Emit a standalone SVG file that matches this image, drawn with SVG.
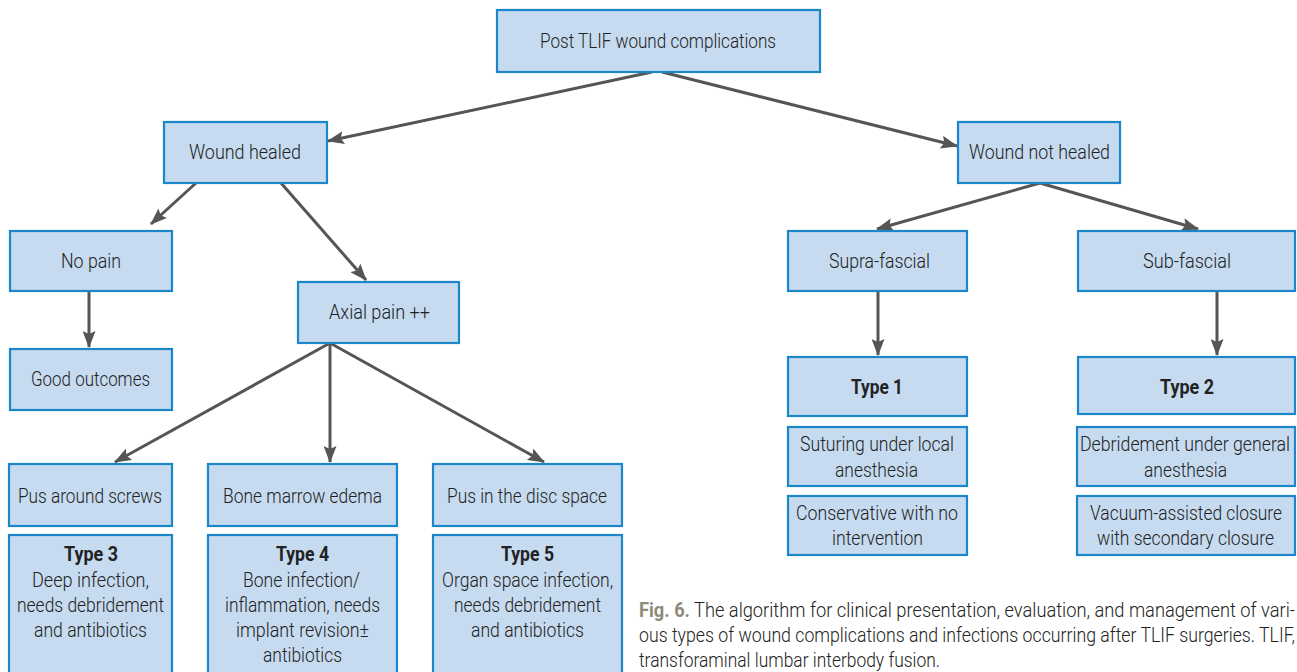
<svg xmlns="http://www.w3.org/2000/svg" width="1297" height="672" viewBox="0 0 1297 672">
<style>
.box{fill:#c6dbf0;stroke:#1b87c9;stroke-width:2.2}
.t{font-family:Roboto,'DejaVu Sans Condensed',sans-serif;font-size:21px;font-weight:300;fill:#222}
.b{font-weight:bold}
.c{font-family:Roboto,'DejaVu Sans Condensed',sans-serif;font-size:20px;font-weight:300;fill:#222}
.cf{font-weight:bold;fill:#8c8b78}
.edge{stroke:#555;stroke-width:3;fill:none;marker-end:url(#ah)}
</style>
<defs>
<marker id="ah" viewBox="0 0 17 13" refX="16" refY="6.5" markerWidth="17" markerHeight="13" orient="auto" markerUnits="userSpaceOnUse">
<path d="M0,0 L17,6.5 L0,13 L3,6.5 z" fill="#555"/>
</marker>
</defs>
<rect width="1297" height="672" fill="#fff"/>
<g id="connectors">
<line class="edge" x1="652" y1="72" x2="328" y2="141"/>
<line class="edge" x1="662" y1="72" x2="957" y2="146"/>
<line class="edge" x1="196" y1="183" x2="151" y2="224"/>
<line class="edge" x1="281" y1="183" x2="366" y2="280"/>
<line class="edge" x1="89" y1="291" x2="89" y2="347"/>
<line class="edge" x1="330" y1="343" x2="115" y2="462"/>
<line class="edge" x1="330" y1="343" x2="330" y2="462"/>
<line class="edge" x1="330" y1="343" x2="544" y2="462"/>
<line class="edge" x1="1040" y1="183" x2="877" y2="229"/>
<line class="edge" x1="1040" y1="183" x2="1198" y2="229"/>
<line class="edge" x1="878" y1="291" x2="878" y2="355"/>
<line class="edge" x1="1217" y1="291" x2="1217" y2="355"/>
</g>
<g id="n-top"><rect class="box" x="497" y="10" width="323" height="62"/><text class="t" x="540" y="48" textLength="236" lengthAdjust="spacingAndGlyphs">Post TLIF wound complications</text></g>
<g id="n-healed"><rect class="box" x="164" y="122" width="163" height="61"/><text class="t" x="189" y="159" textLength="112" lengthAdjust="spacingAndGlyphs">Wound healed</text></g>
<g id="n-nothealed"><rect class="box" x="958" y="122" width="162" height="61"/><text class="t" x="969" y="159" textLength="141" lengthAdjust="spacingAndGlyphs">Wound not healed</text></g>
<g id="n-nopain"><rect class="box" x="10" y="231" width="162" height="60"/><text class="t" x="61" y="268" textLength="60" lengthAdjust="spacingAndGlyphs">No pain</text></g>
<g id="n-axial"><rect class="box" x="298" y="282" width="161" height="61"/><text class="t" x="329" y="319" textLength="101" lengthAdjust="spacingAndGlyphs">Axial pain ++</text></g>
<g id="n-good"><rect class="box" x="10" y="349" width="162" height="61"/><text class="t" x="31" y="386" textLength="119" lengthAdjust="spacingAndGlyphs">Good outcomes</text></g>
<g id="n-supra"><rect class="box" x="788" y="231" width="179" height="60"/><text class="t" x="829" y="268" textLength="101" lengthAdjust="spacingAndGlyphs">Supra-fascial</text></g>
<g id="n-sub"><rect class="box" x="1078" y="231" width="217" height="60"/><text class="t" x="1143" y="268" textLength="88" lengthAdjust="spacingAndGlyphs">Sub-fascial</text></g>
<g id="n-type1"><rect class="box" x="788" y="357" width="179" height="59"/><text class="t b" x="851" y="394" textLength="52" lengthAdjust="spacingAndGlyphs">Type 1</text></g>
<g id="n-sut"><rect class="box" x="788" y="427" width="179" height="59"/><text class="t" x="800" y="451" textLength="154" lengthAdjust="spacingAndGlyphs">Suturing under local</text><text class="t" x="835" y="477" textLength="83" lengthAdjust="spacingAndGlyphs">anesthesia</text></g>
<g id="n-cons"><rect class="box" x="788" y="496" width="179" height="59"/><text class="t" x="796" y="520" textLength="162" lengthAdjust="spacingAndGlyphs">Conservative with no</text><text class="t" x="832" y="545" textLength="91" lengthAdjust="spacingAndGlyphs">intervention</text></g>
<g id="n-type2"><rect class="box" x="1078" y="357" width="217" height="57"/><text class="t b" x="1160" y="394" textLength="54" lengthAdjust="spacingAndGlyphs">Type 2</text></g>
<g id="n-debr"><rect class="box" x="1077" y="427" width="218" height="59"/><text class="t" x="1080" y="451" textLength="210" lengthAdjust="spacingAndGlyphs">Debridement under general</text><text class="t" x="1144" y="477" textLength="83" lengthAdjust="spacingAndGlyphs">anesthesia</text></g>
<g id="n-vac"><rect class="box" x="1077" y="496" width="218" height="59"/><text class="t" x="1090" y="520" textLength="192" lengthAdjust="spacingAndGlyphs">Vacuum-assisted closure</text><text class="t" x="1097" y="545" textLength="177" lengthAdjust="spacingAndGlyphs">with secondary closure</text></g>
<g id="n-screws"><rect class="box" x="9" y="464" width="163" height="62"/><text class="t" x="18" y="503" textLength="144" lengthAdjust="spacingAndGlyphs">Pus around screws</text></g>
<g id="n-marrow"><rect class="box" x="208" y="464" width="189" height="62"/><text class="t" x="223" y="503" textLength="159" lengthAdjust="spacingAndGlyphs">Bone marrow edema</text></g>
<g id="n-disc"><rect class="box" x="433" y="464" width="189" height="62"/><text class="t" x="447" y="503" textLength="160" lengthAdjust="spacingAndGlyphs">Pus in the disc space</text></g>
<g id="n-type3"><rect class="box" x="9" y="535" width="163" height="150"/>
<text class="t b" x="64" y="561" textLength="54" lengthAdjust="spacingAndGlyphs">Type 3</text>
<text class="t" x="32" y="587" textLength="117" lengthAdjust="spacingAndGlyphs">Deep infection,</text>
<text class="t" x="17" y="612" textLength="147" lengthAdjust="spacingAndGlyphs">needs debridement</text>
<text class="t" x="34" y="637" textLength="113" lengthAdjust="spacingAndGlyphs">and antibiotics</text></g>
<g id="n-type4"><rect class="box" x="208" y="535" width="189" height="150"/>
<text class="t b" x="276" y="561" textLength="53" lengthAdjust="spacingAndGlyphs">Type 4</text>
<text class="t" x="243" y="587" textLength="117" lengthAdjust="spacingAndGlyphs">Bone infection/</text>
<text class="t" x="225" y="612" textLength="155" lengthAdjust="spacingAndGlyphs">inflammation, needs</text>
<text class="t" x="236" y="637" textLength="133" lengthAdjust="spacingAndGlyphs">implant revision±</text>
<text class="t" x="263" y="662" textLength="79" lengthAdjust="spacingAndGlyphs">antibiotics</text></g>
<g id="n-type5"><rect class="box" x="433" y="535" width="189" height="150"/>
<text class="t b" x="501" y="561" textLength="53" lengthAdjust="spacingAndGlyphs">Type 5</text>
<text class="t" x="442" y="587" textLength="171" lengthAdjust="spacingAndGlyphs">Organ space infection,</text>
<text class="t" x="454" y="612" textLength="147" lengthAdjust="spacingAndGlyphs">needs debridement</text>
<text class="t" x="471" y="637" textLength="113" lengthAdjust="spacingAndGlyphs">and antibiotics</text></g>
<g id="caption">
<text class="c" x="639" y="617" textLength="656" lengthAdjust="spacingAndGlyphs"><tspan class="cf">Fig. 6.</tspan> The algorithm for clinical presentation, evaluation, and management of vari-</text>
<text class="c" x="639" y="642" textLength="656" lengthAdjust="spacingAndGlyphs">ous types of wound complications and infections occurring after TLIF surgeries. TLIF,</text>
<text class="c" x="639" y="667" textLength="301" lengthAdjust="spacingAndGlyphs">transforaminal lumbar interbody fusion.</text>
</g>
</svg>
